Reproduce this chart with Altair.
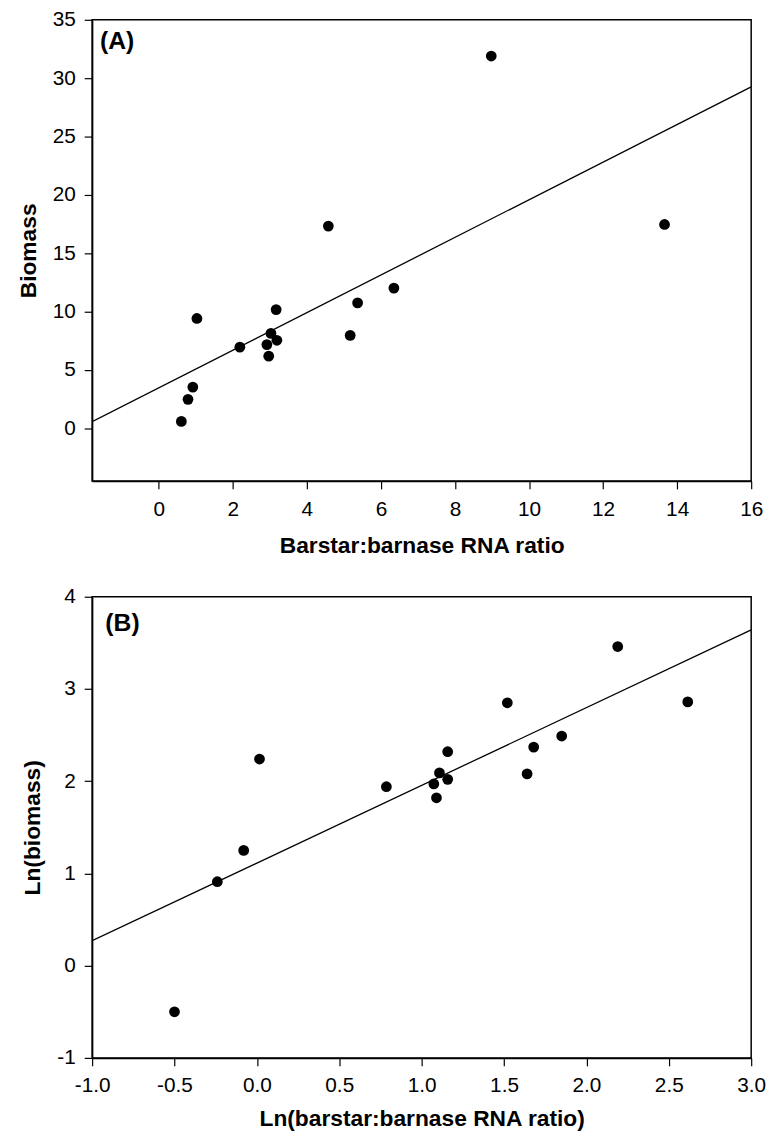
import altair as alt
import pandas as pd

FONT = "Liberation Sans"

# Panel A: raw values
ratio_a = [0.61, 0.79, 0.92, 1.03, 2.19, 2.92, 2.97, 3.03, 3.19, 3.17, 4.58, 5.17, 5.37, 6.35, 8.98, 13.66]
biomass_a = [0.60, 2.49, 3.54, 9.42, 6.96, 7.18, 6.19, 8.14, 7.55, 10.18, 17.33, 7.97, 10.75, 12.02, 31.90, 17.47]
fit_a_x = [-1.8, 16.0]
fit_a_y = [0.57, 29.26]
xticks_a = [0, 2, 4, 6, 8, 10, 12, 14, 16]
yticks_a = [0, 5, 10, 15, 20, 25, 30, 35]

# Panel B: log values
ln_ratio_b = [-0.50, -0.24, -0.08, 0.016, 0.786, 1.074, 1.09, 1.108, 1.158, 1.158, 1.52, 1.64, 1.68, 1.85, 2.19, 2.615]
ln_biomass_b = [-0.50, 0.91, 1.25, 2.24, 1.94, 1.97, 1.82, 2.09, 2.02, 2.32, 2.85, 2.08, 2.37, 2.49, 3.46, 2.86]
fit_b_x = [-1.0, 3.0]
fit_b_y = [0.27, 3.64]
xticks_b = [-1.0, -0.5, 0.0, 0.5, 1.0, 1.5, 2.0, 2.5, 3.0]
yticks_b = [-1, 0, 1, 2, 3, 4]

W = 666
HYPHEN = "replace(datum.label, '\u2212', '-')"


def axis(values, title_pad, label_pad, fmt):
    return alt.Axis(
        values=values, format=fmt, labelExpr=HYPHEN, grid=False, tickSize=8,
        tickColor="black", tickWidth=1.2, domainColor="black", domainWidth=1.5,
        labelColor="black", titleColor="black", labelFont=FONT, titleFont=FONT,
        labelFontSize=21, titleFontSize=23, titleFontWeight="bold",
        labelPadding=label_pad, titlePadding=title_pad, labelFlush=False, labelOverlap=False,
    )


def panel(xs, ys, fx, fy, xdom, ydom, xt, yt, xtitle, ytitle, tag, tag_x, tag_y,
          xfmt, yfmt, x_tp, x_lp, h):
    pts = pd.DataFrame({"x": xs, "y": ys})
    fit = pd.DataFrame({"x": fx, "y": fy})
    tagdf = pd.DataFrame({"x": [tag_x], "y": [tag_y], "t": [tag]})
    xs_ = alt.Scale(domain=xdom, nice=False, zero=False)
    ys_ = alt.Scale(domain=ydom, nice=False, zero=False)
    xenc = alt.X("x:Q", scale=xs_, title=xtitle, axis=axis(xt, x_tp, x_lp, xfmt))
    yenc = alt.Y("y:Q", scale=ys_, title=ytitle, axis=axis(yt, 12, 9, yfmt))
    line = alt.Chart(fit).mark_line(color="black", strokeWidth=1.3, clip=True).encode(x=xenc, y=yenc)
    dots = alt.Chart(pts).mark_circle(color="black", opacity=1, size=118).encode(x="x:Q", y="y:Q")
    lab = alt.Chart(tagdf).mark_text(
        align="left", baseline="alphabetic", font=FONT, fontSize=25, fontWeight="bold", color="black"
    ).encode(x="x:Q", y="y:Q", text="t:N")
    return alt.layer(line, dots, lab).properties(width=W, height=h)


pa = panel(ratio_a, biomass_a, fit_a_x, fit_a_y, [-1.8, 16], [-4.5, 35], xticks_a, yticks_a,
           "Barstar:barnase RNA ratio", "Biomass", "(A)", -1.586, 32.5,
           "d", "d", 15, 10, 466)
pb = panel(ln_ratio_b, ln_biomass_b, fit_b_x, fit_b_y, [-1.0, 3.0], [-1, 4], xticks_b, yticks_b,
           "Ln(barstar:barnase RNA ratio)", "Ln(biomass)", "(B)", -0.92, 3.63,
           ".1f", "d", 12, 9, 466)

chart = alt.vconcat(pa, pb, spacing=27).properties(
    padding={"left": 8, "top": -6, "right": 2, "bottom": 0}
).configure_view(stroke="black", strokeWidth=1.5)

chart.save("out.html", embed_options={"renderer": "svg", "actions": False})
